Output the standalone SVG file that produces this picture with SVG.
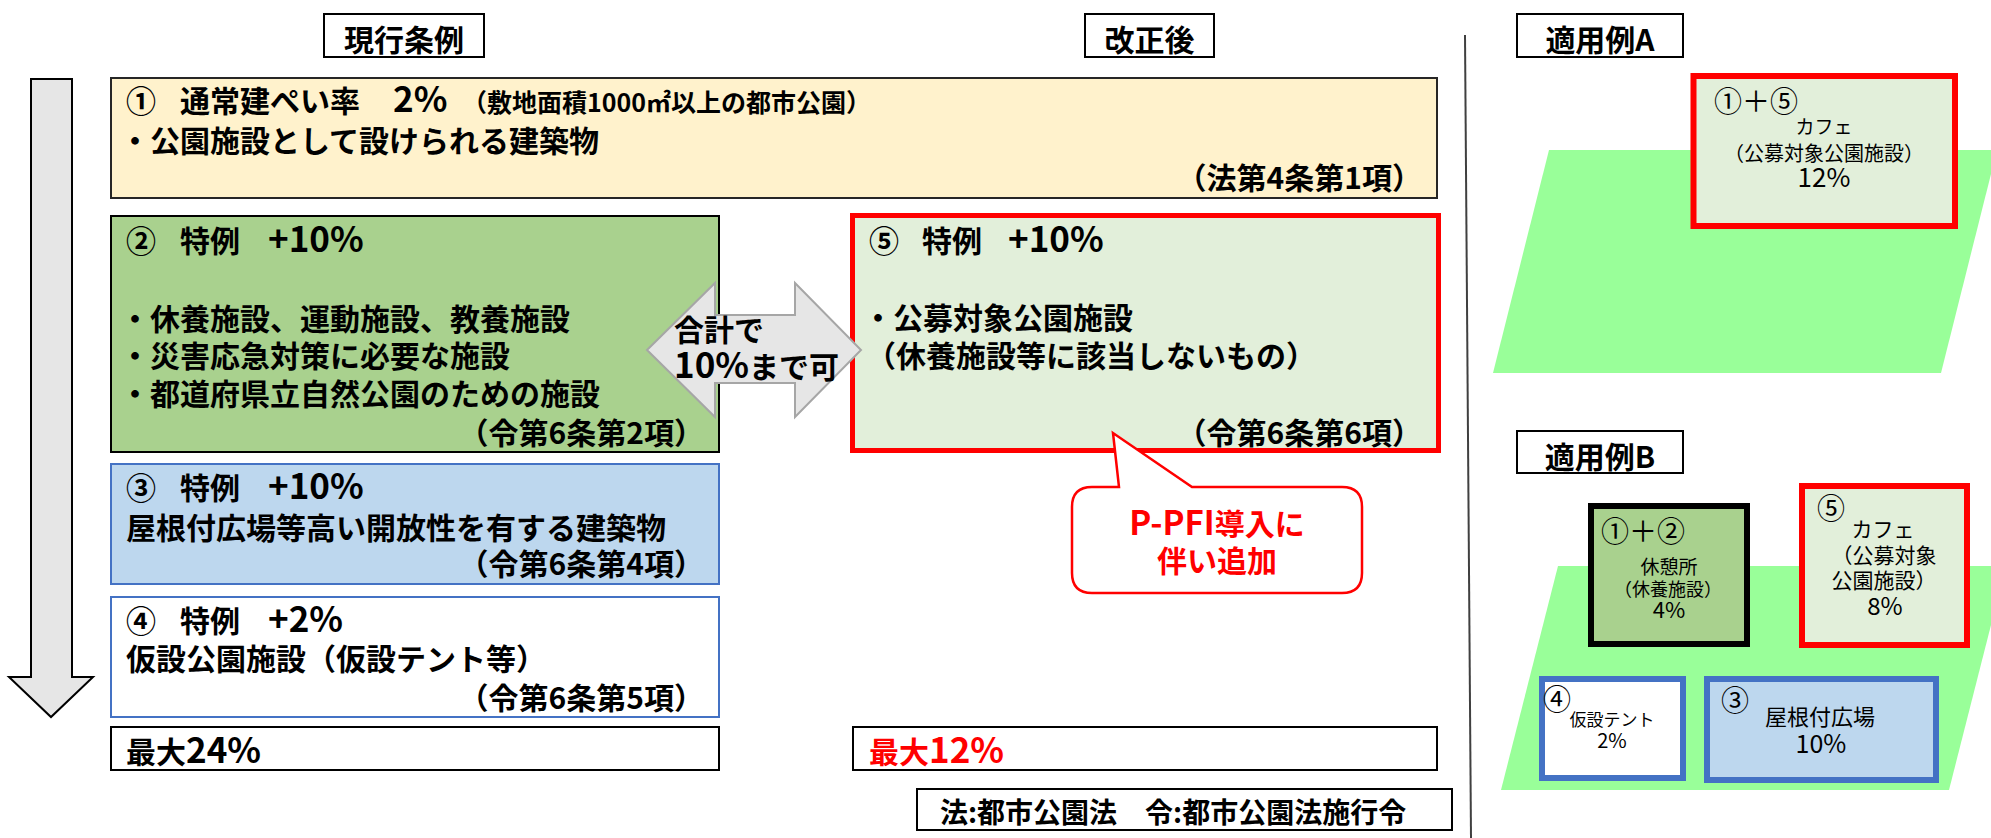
<svg xmlns="http://www.w3.org/2000/svg" width="1991" height="838" viewBox="0 0 1991 838">
<style>
text{font-family:"Noto Sans CJK JP","Noto Sans",sans-serif;fill:#000}
.b{font-weight:bold}
.m{font-size:30px;font-weight:bold}
.d{font-size:35px}
.r{fill:#ff0000}
.hdr{fill:#fff;stroke:#000;stroke-width:2}
.c{text-anchor:middle}
.e{text-anchor:end}
</style>
<rect width="1991" height="838" fill="#fff"/>

<!-- headers -->
<g id="hdr-current"><rect class="hdr" x="324" y="14" width="160" height="43"/><text class="m c" x="404" y="51" font-size="31">現行条例</text></g>
<g id="hdr-revised"><rect class="hdr" x="1085" y="14" width="129" height="43"/><text class="m c" x="1149.5" y="51">改正後</text></g>
<g id="hdr-exA"><rect class="hdr" x="1517" y="14" width="166" height="43"/><text class="m c" x="1600" y="51">適用例A</text></g>
<g id="hdr-exB"><rect class="hdr" x="1517" y="431" width="166" height="42"/><text class="m c" x="1600" y="468">適用例B</text></g>

<!-- divider -->
<line x1="1465" y1="35" x2="1471" y2="838" stroke="#404040" stroke-width="2"/>

<!-- down arrow -->
<g id="down-arrow"><polygon points="31,79 72,79 72,677 93,677 51,717 9,677 31,677" fill="#e6e6e6" stroke="#000" stroke-width="2"/></g>

<!-- box 1 -->
<g id="box1">
<rect x="111" y="78" width="1326" height="120" fill="#fff2cc" stroke="#262626" stroke-width="2"/>
<text class="m" y="112"><tspan x="126">①</tspan><tspan x="180">通常建ぺい率</tspan><tspan x="393" class="d">2%</tspan><tspan x="462" font-size="25">（敷地面積1000㎡以上の都市公園）</tspan></text>
<text class="m" x="120" y="152">・公園施設として設けられる建築物</text>
<text class="m e" x="1422" y="189">（法第4条第1項）</text>
</g>

<!-- box 2 -->
<g id="box2">
<rect x="111" y="216" width="608" height="236" fill="#a9d18e" stroke="#000" stroke-width="2"/>
<text class="m" y="252"><tspan x="126">②</tspan><tspan x="180">特例</tspan><tspan x="268" class="d">+10%</tspan></text>
<text class="m" x="120" y="330">・休養施設、運動施設、教養施設</text>
<text class="m" x="120" y="367">・災害応急対策に必要な施設</text>
<text class="m" x="120" y="405">・都道府県立自然公園のための施設</text>
<text class="m e" x="704" y="444">（令第6条第2項）</text>
</g>

<!-- box 3 -->
<g id="box3">
<rect x="111" y="464" width="608" height="120" fill="#bdd7ee" stroke="#4472c4" stroke-width="2"/>
<text class="m" y="499"><tspan x="126">③</tspan><tspan x="180">特例</tspan><tspan x="268" class="d">+10%</tspan></text>
<text class="m" x="126" y="539" font-size="32">屋根付広場等高い開放性を有する建築物</text>
<text class="m e" x="704" y="575">（令第6条第4項）</text>
</g>

<!-- box 4 -->
<g id="box4">
<rect x="111" y="597" width="608" height="120" fill="#fff" stroke="#4472c4" stroke-width="2"/>
<text class="m" y="632"><tspan x="126">④</tspan><tspan x="180">特例</tspan><tspan x="268" class="d">+2%</tspan></text>
<text class="m" x="126" y="670">仮設公園施設（仮設テント等）</text>
<text class="m e" x="704" y="709">（令第6条第5項）</text>
</g>

<!-- max 24 -->
<g id="max24"><rect x="111" y="727" width="608" height="43" fill="#fff" stroke="#000" stroke-width="2"/><text class="m" x="126" y="763">最大<tspan class="d">24%</tspan></text></g>

<!-- box 5 -->
<g id="box5">
<rect x="852.5" y="215.5" width="586" height="235" fill="#e2efda" stroke="#ff0000" stroke-width="5"/>
<text class="m" y="252"><tspan x="869">⑤</tspan><tspan x="922">特例</tspan><tspan x="1008" class="d">+10%</tspan></text>
<text class="m" x="863" y="329">・公募対象公園施設</text>
<text class="m" x="866" y="367">（休養施設等に該当しないもの）</text>
<text class="m e" x="1422" y="444">（令第6条第6項）</text>
</g>

<!-- max 12 -->
<g id="max12"><rect x="853" y="727" width="584" height="43" fill="#fff" stroke="#000" stroke-width="2"/><text class="m r" x="869" y="763">最大<tspan class="d">12%</tspan></text></g>

<!-- footnote -->
<g id="footnote"><rect x="917" y="789" width="535" height="41" fill="#fff" stroke="#000" stroke-width="2"/><text class="b" font-size="28" x="940" y="823">法:都市公園法　令:都市公園法施行令</text></g>

<!-- connectors -->
<g id="connectors">
<polygon points="647,350 715,283 715,315 795,315 795,283 861,350 795,417 795,383 715,383 715,417" fill="#e6e6e6" stroke="#a6a6a6" stroke-width="2"/>
<text class="m" x="674" y="341">合計で</text>
<text class="m" x="674" y="378"><tspan class="d">10%</tspan>まで可</text>
</g>

<!-- callout -->
<g id="callout">
<path d="M1092,487 L1119,487 L1113,433 L1192,487 L1342,487 Q1362,487 1362,507 L1362,573 Q1362,593 1342,593 L1092,593 Q1072,593 1072,573 L1072,507 Q1072,487 1092,487 Z" fill="#fff" stroke="#ff0000" stroke-width="2.5"/>
<text class="m r c" x="1217" y="535"><tspan font-size="33">P-PFI</tspan>導入に</text>
<text class="m r c" x="1217" y="572">伴い追加</text>
</g>

<!-- example A -->
<g id="exA-ground"><polygon points="1549,150 1997,150 1941,373 1493,373" fill="#99ff99"/></g>
<g id="exA-cafe">
<rect x="1693.5" y="76" width="261.5" height="150" fill="#e2efda" stroke="#ff0000" stroke-width="6"/>
<text font-size="28" x="1714" y="112">①＋⑤</text>
<text class="c" font-size="19" x="1824" y="134">カフェ</text>
<text class="c" font-size="20" x="1824" y="161">（公募対象公園施設）</text>
<text class="c" font-size="26" x="1824" y="187">12%</text>
</g>

<!-- example B -->
<g id="exB-ground"><polygon points="1558,566 2006,566 1949,790 1501,790" fill="#99ff99"/></g>
<g id="exB-rest">
<rect x="1591" y="506" width="156" height="138" fill="#a9d18e" stroke="#000" stroke-width="6"/>
<text font-size="28" x="1601" y="542">①＋②</text>
<text class="c" font-size="19" x="1669" y="574">休憩所</text>
<text class="c" font-size="18" x="1668" y="596">（休養施設）</text>
<text class="c" font-size="22" x="1669" y="618">4%</text>
</g>
<g id="exB-cafe">
<rect x="1802" y="486" width="165" height="159" fill="#e2efda" stroke="#ff0000" stroke-width="6"/>
<text font-size="28" x="1817" y="519">⑤</text>
<text class="c" font-size="21" x="1883" y="537">カフェ</text>
<text class="c" font-size="21" x="1884" y="563">（公募対象</text>
<text class="c" font-size="21" x="1884" y="588">公園施設）</text>
<text class="c" font-size="24" x="1885" y="615">8%</text>
</g>
<g id="exB-tent">
<rect x="1542" y="679" width="141" height="99" fill="#fff" stroke="#4472c4" stroke-width="6"/>
<text font-size="28" x="1543" y="710">④</text>
<text class="c" font-size="17" x="1612" y="726">仮設テント</text>
<text class="c" font-size="20" x="1612" y="748">2%</text>
</g>
<g id="exB-roof">
<rect x="1707" y="679" width="229" height="101" fill="#bdd7ee" stroke="#4472c4" stroke-width="6"/>
<text font-size="28" x="1721" y="711">③</text>
<text class="c" font-size="22" x="1820" y="725">屋根付広場</text>
<text class="c" font-size="25" x="1821" y="753">10%</text>
</g>
</svg>
